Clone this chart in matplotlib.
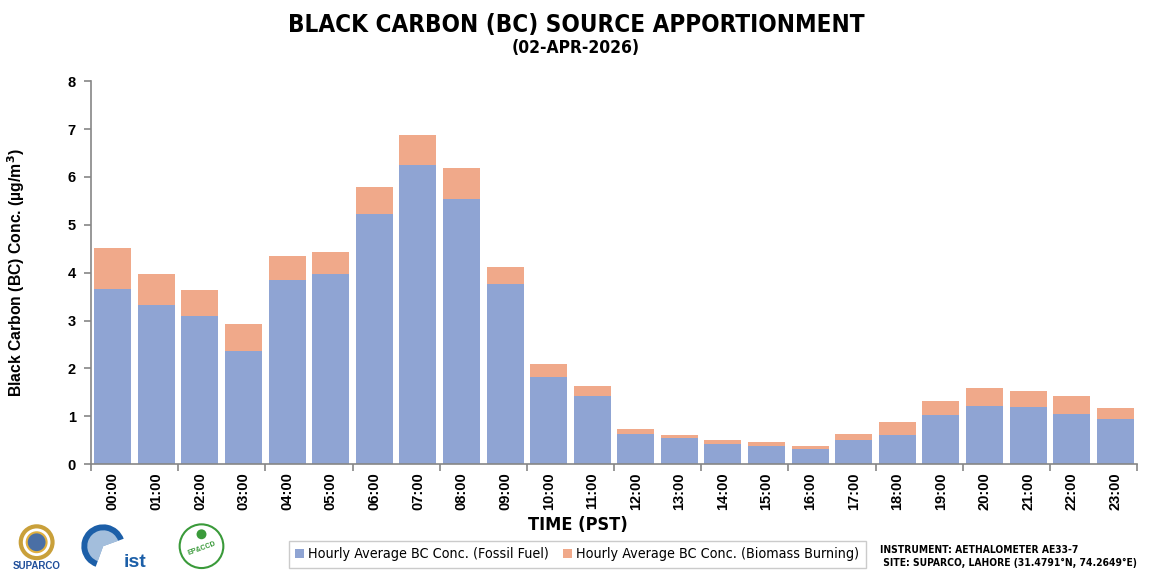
import matplotlib
matplotlib.use('Agg')
import matplotlib.pyplot as plt
import numpy as np
from matplotlib.patches import Circle, Wedge

hours = ['00:00', '01:00', '02:00', '03:00', '04:00', '05:00', '06:00', '07:00',
         '08:00', '09:00', '10:00', '11:00', '12:00', '13:00', '14:00', '15:00',
         '16:00', '17:00', '18:00', '19:00', '20:00', '21:00', '22:00', '23:00']
fossil = [3.65, 3.32, 3.09, 2.36, 3.84, 3.97, 5.22, 6.26, 5.55, 3.76, 1.82, 1.42,
          0.63, 0.54, 0.42, 0.38, 0.31, 0.50, 0.61, 1.02, 1.21, 1.19, 1.06, 0.94]
total = [4.51, 3.97, 3.63, 2.92, 4.34, 4.43, 5.80, 6.87, 6.18, 4.11, 2.09, 1.63,
         0.73, 0.61, 0.50, 0.46, 0.38, 0.63, 0.88, 1.32, 1.59, 1.54, 1.42, 1.17]
biomass = [t - f for t, f in zip(total, fossil)]

arial = ['Liberation Sans', 'DejaVu Sans']
narrow = dict(family='DejaVu Sans', stretch='condensed')

c_fossil = '#8FA4D3'
c_bio = '#F0A98A'

fig = plt.figure(figsize=(11.52, 5.76), dpi=100)
ax = fig.add_axes([0.079, 0.194, 0.908, 0.665])

x = np.arange(len(hours))
ax.bar(x, fossil, width=0.85, color=c_fossil, label='Hourly Average BC Conc. (Fossil Fuel)')
ax.bar(x, biomass, width=0.85, bottom=fossil, color=c_bio, label='Hourly Average BC Conc. (Biomass Burning)')

ax.set_xlim(-0.5, len(hours) - 0.5)
ax.set_ylim(0, 8)
ax.set_yticks(range(0, 9))
for s in ['top', 'right']:
    ax.spines[s].set_visible(False)
for s in ['left', 'bottom']:
    ax.spines[s].set_color('#868686')
    ax.spines[s].set_linewidth(1.2)

ax.set_xticks(x)
ax.set_xticklabels(hours, rotation=90, fontfamily=arial, fontweight='bold', fontsize=10.5)
ax.tick_params(axis='x', length=0, pad=6)
# excel style: tick marks between every second category
ax.set_xticks(np.arange(-0.5, len(hours), 2), minor=True)
ax.tick_params(axis='x', which='minor', length=5, color='#868686', width=1.2)
ax.tick_params(axis='y', length=5, color='#868686', width=1.2, pad=6)
for lab in ax.get_yticklabels():
    lab.set_fontfamily(arial)
    lab.set_fontweight('bold')
    lab.set_fontsize(10.5)

ax.set_ylabel('Black Carbon (BC) Conc. (µg/m$^\\mathbf{3}$)', fontfamily=arial,
              fontweight='bold', fontsize=11.3, labelpad=29)
ax.set_xlabel('TIME (PST)', fontweight='bold', fontsize=13, labelpad=6, **narrow)
ax.xaxis.set_label_coords(0.465, -0.135)

fig.text(0.5, 0.957, 'BLACK CARBON (BC) SOURCE APPORTIONMENT', ha='center', va='center',
         fontweight='bold', fontsize=17.4, **narrow)
fig.text(0.5, 0.917, '(02-APR-2026)', ha='center', va='center',
         fontweight='bold', fontsize=12.5, **narrow)

leg = fig.legend(loc='center', bbox_to_anchor=(0.501, 0.038), ncol=2,
                 prop=dict(size=10.3, **narrow), frameon=True, fancybox=False,
                 handlelength=0.6, handleheight=0.6, handletextpad=0.3, columnspacing=1.0,
                 borderpad=0.45)
leg.get_frame().set_edgecolor('#BFBFBF')
leg.get_frame().set_linewidth(1.0)

fig.text(0.764, 0.045, 'INSTRUMENT: AETHALOMETER AE33-7', ha='left', va='center',
         fontweight='bold', fontsize=7.4, **narrow)
fig.text(0.764, 0.023, ' SITE: SUPARCO, LAHORE (31.4791°N, 74.2649°E)', ha='left', va='center',
         fontweight='bold', fontsize=7.4, **narrow)

# rough stand-ins for the three logos
lax = fig.add_axes([0.0, 0.0, 0.23, 0.1])
lax.set_xlim(0, 265)
lax.set_ylim(0, 58)
lax.set_aspect('equal')
lax.axis('off')
lax.add_patch(Circle((36, 34), 16, facecolor='none', edgecolor='#C9A03A', lw=3))
lax.add_patch(Circle((36, 34), 10, facecolor='#4A6FA5', edgecolor='#E0B040', lw=1.5))
lax.text(36, 10, 'SUPARCO', ha='center', va='center', color='#1F4E9A',
         fontfamily=arial, fontweight='bold', fontsize=7)
lax.add_patch(Wedge((103, 30), 22, 20, 250, facecolor='#1C5FA8', edgecolor='none'))
lax.add_patch(Wedge((103, 30), 16, 20, 250, facecolor='white', edgecolor='none', alpha=0.6))
lax.text(135, 14, 'ist', ha='center', va='center', color='#1C5FA8',
         fontfamily=arial, fontweight='bold', fontsize=14)
lax.add_patch(Circle((202, 30), 22, facecolor='none', edgecolor='#3A9A3A', lw=1.5))
lax.text(202, 28, 'EP&CCD', ha='center', va='center', color='#3A9A3A',
         fontfamily=arial, fontweight='bold', fontsize=5, rotation=20)
lax.add_patch(Circle((202, 42), 5, facecolor='#3A9A3A', edgecolor='none'))

fig.savefig('out.png', dpi=100)
